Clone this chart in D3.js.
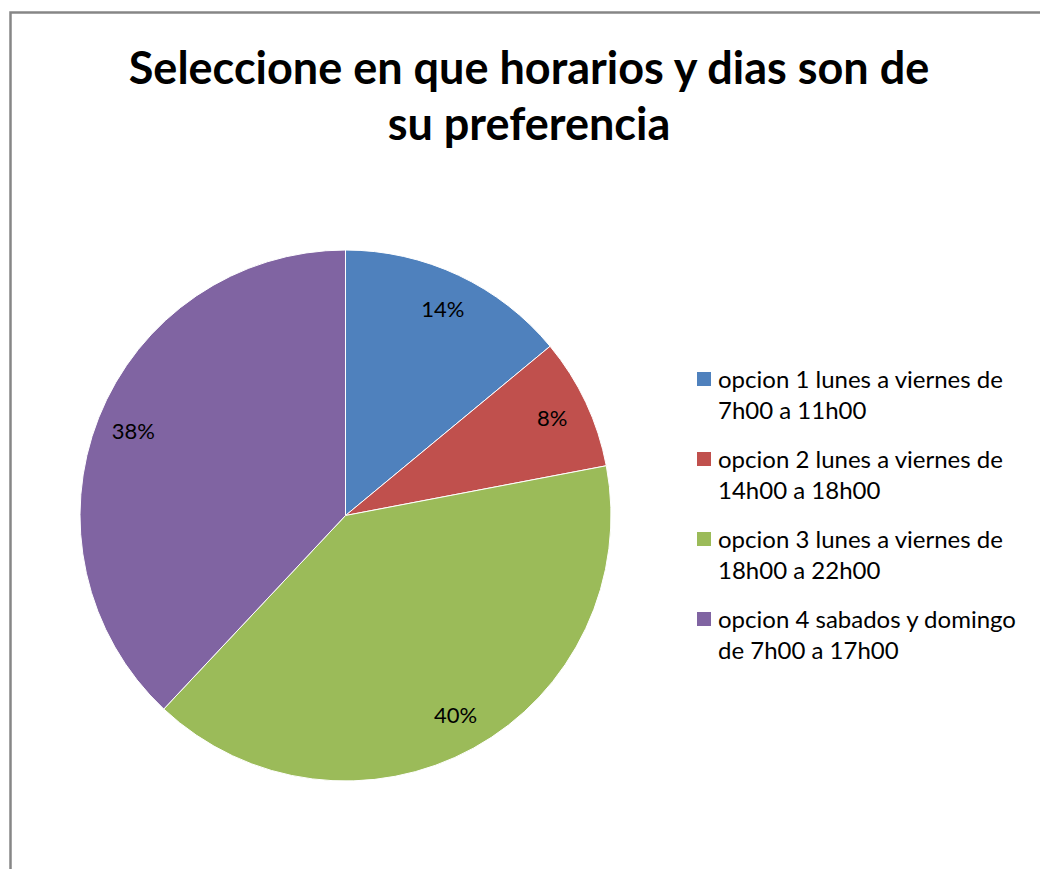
<!DOCTYPE html>
<html>
<head>
<meta charset="utf-8">
<script src="https://cdn.jsdelivr.net/npm/d3@7"></script>
<style>
  body { margin: 0; background: #fff; }
  #chart text { font-family: Lato, "Open Sans", sans-serif; }
</style>
</head>
<body>
<div id="chart"></div>
<script>
var titleLines = ["Seleccione en que horarios y dias son de", "su preferencia"];
var categories = ["opcion 1 lunes a viernes de 7h00 a 11h00",
                  "opcion 2 lunes a viernes de 14h00 a 18h00",
                  "opcion 3 lunes a viernes de 18h00 a 22h00",
                  "opcion 4 sabados y domingo de 7h00 a 17h00"];
var legendLines = [["opcion 1 lunes a viernes de", "7h00 a 11h00"],
                   ["opcion 2 lunes a viernes de", "14h00 a 18h00"],
                   ["opcion 3 lunes a viernes de", "18h00 a 22h00"],
                   ["opcion 4 sabados y domingo", "de 7h00 a 17h00"]];
var values = [14, 8, 40, 38];
var colorList = ["#4F81BD", "#C0504D", "#9BBB59", "#8064A2"];

function init(){
    var w = 1040;
    var h = 869;

    var svg = d3.select("#chart")
                .append("svg")
                .attr("width", w)
                .attr("height", h);

    // chart frame (runs off the right and bottom)
    svg.append("rect")
        .attr("x", 10.5)
        .attr("y", 12.5)
        .attr("width", w + 20)
        .attr("height", h + 20)
        .style("fill", "#fff")
        .style("stroke", "#868686")
        .style("stroke-width", 2.5);

    // title
    svg.selectAll("text.title")
        .data(titleLines)
        .enter()
        .append("text")
        .attr("class", "title")
        .attr("x", 529)
        .attr("y", function(d, i){ return 84 + i * 56; })
        .attr("text-anchor", "middle")
        .style("font-size", "45px")
        .style("font-weight", "bold")
        .style("fill", "#000")
        .text(function(d){ return d; });

    var color = d3.scaleOrdinal().domain(categories).range(colorList);

    var cx = 345.5, cy = 515.5, r = 265.5;

    var pie = d3.pie().sort(null).value(function(d){ return d; });
    var arcs = pie(values);

    var arc = d3.arc().innerRadius(0).outerRadius(r);
    var labelArc = d3.arc().innerRadius(r * 0.86).outerRadius(r * 0.86);

    var g = svg.append("g")
        .attr("transform", "translate(" + cx + "," + cy + ")");

    g.selectAll("path")
        .data(arcs)
        .enter()
        .append("path")
        .attr("d", arc)
        .style("fill", function(d, i){ return color(categories[i]); })
        .style("stroke", "#fff")
        .style("stroke-width", 1);

    var total = d3.sum(values);
    g.selectAll("text.lbl")
        .data(arcs)
        .enter()
        .append("text")
        .attr("class", "lbl")
        .attr("transform", function(d){ return "translate(" + labelArc.centroid(d) + ")"; })
        .attr("text-anchor", "middle")
        .attr("dy", "0.35em")
        .style("font-size", "22px")
        .style("fill", "#000")
        .text(function(d){ return d3.format(".0%")(d.value / total); });

    // legend
    var legend = svg.selectAll("g.legend")
        .data(categories)
        .enter()
        .append("g")
        .attr("class", "legend")
        .attr("transform", function(d, i){ return "translate(697," + (372 + i * 80) + ")"; });

    legend.append("rect")
        .attr("width", 14)
        .attr("height", 14)
        .style("fill", function(d){ return color(d); });

    legend.selectAll("text")
        .data(function(d, i){ return legendLines[i]; })
        .enter()
        .append("text")
        .attr("x", 21)
        .attr("y", function(d, i){ return 16 + i * 31; })
        .style("font-size", "24px")
        .style("fill", "#000")
        .text(function(d){ return d; });
}
window.onload = init;
</script>
</body>
</html>
